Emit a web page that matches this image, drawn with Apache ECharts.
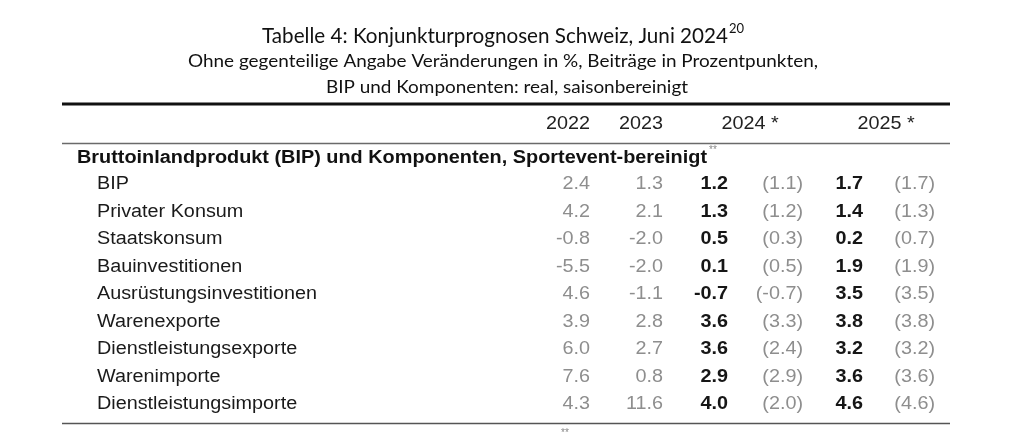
<!DOCTYPE html>
<html>
<head>
<meta charset="utf-8">
<script src="https://cdn.jsdelivr.net/npm/echarts@6/dist/echarts.min.js"></script>
<style>html,body{margin:0;padding:0;background:#fff}#c{width:1024px;height:433px}</style>
</head>
<body>
<div id="c"></div>
<script>
// ---------- data ----------
const titleText = 'Tabelle 4: Konjunkturprognosen Schweiz, Juni 2024';
const titleSup = '20';
const subtitle1 = 'Ohne gegenteilige Angabe Veränderungen in %, Beiträge in Prozentpunkten,';
const subtitle2 = 'BIP und Komponenten: real, saisonbereinigt';
const columnLabels = ['2022', '2023', '2024 *', '2025 *'];
const sectionLabel = 'Bruttoinlandprodukt (BIP) und Komponenten, Sportevent-bereinigt';
const categories = ['BIP', 'Privater Konsum', 'Staatskonsum', 'Bauinvestitionen',
  'Ausrüstungsinvestitionen', 'Warenexporte', 'Dienstleistungsexporte', 'Warenimporte',
  'Dienstleistungsimporte'];
const v2022 = [2.4, 4.2, -0.8, -5.5, 4.6, 3.9, 6.0, 7.6, 4.3];
const v2023 = [1.3, 2.1, -2.0, -2.0, -1.1, 2.8, 2.7, 0.8, 11.6];
const v2024 = [1.2, 1.3, 0.5, 0.1, -0.7, 3.6, 3.6, 2.9, 4.0];
const v2024prev = [1.1, 1.2, 0.3, 0.5, -0.7, 3.3, 2.4, 2.9, 2.0];
const v2025 = [1.7, 1.4, 0.2, 1.9, 3.5, 3.8, 3.2, 3.6, 4.6];
const v2025prev = [1.7, 1.3, 0.7, 1.9, 3.5, 3.8, 3.2, 3.6, 4.6];

// ---------- layout ----------
const TF = 'Liberation Sans, Arial, sans-serif';
const HF = 'Lato, Calibri, sans-serif';
const FS = 18;
const cv = document.createElement('canvas').getContext('2d');
function fit(text, font, target) { cv.font = font; return target / cv.measureText(text).width; }
const SX = fit('Ausrüstungsinvestitionen', FS + 'px ' + TF, 220);
const SXB = fit(sectionLabel, 'bold ' + FS + 'px ' + TF, 630);
const labelX = 97;
const colAnchors = { c2022: 590, c2023: 663, c2024: 728, c2024p: 803, c2025: 863, c2025p: 935 };
const GREY = '#8e8e8e', BLACK = '#161616';

function textSeries(name, values, anchorX, align, color, weight, fmt) {
  return {
    type: 'custom', name: name, coordinateSystem: 'cartesian2d', silent: true,
    encode: { x: 0, y: 1 },
    data: values.map((v, i) => [anchorX, i, v]),
    renderItem: function (params, api) {
      const p = api.coord([api.value(0), api.value(1)]);
      const idx = params.dataIndex;
      return {
        type: 'text', x: p[0], y: p[1] + 0.5, scaleX: SX, originX: 0, originY: 0,
        style: {
          text: fmt(values[idx], idx), x: 0, y: 0, align: align, verticalAlign: 'middle',
          font: (weight === 'bold' ? 'bold ' : '') + FS + 'px ' + TF, fill: color
        }
      };
    }
  };
}
const num = v => v.toFixed(1);
const par = v => '(' + v.toFixed(1) + ')';

const hdrY = 124;
const colHeaderX = [590, 663, 750, 886];
const colHeaderAlign = ['right', 'right', 'center', 'center'];

const graphics = [];
// title
const titleFont = '21px ' + HF;
graphics.push({ type: 'text', x: 262, y: 47, scaleX: fit(titleText, titleFont, 466),
  style: { text: titleText, font: titleFont, fill: '#111', align: 'left', verticalAlign: 'bottom' } });
graphics.push({ type: 'text', x: 729, y: 22, style: { text: titleSup, font: '13px ' + HF, fill: '#111', align: 'left', verticalAlign: 'top' } });
const subFont = '17px ' + HF;
graphics.push({ type: 'text', x: 503, y: 62, scaleX: fit(subtitle1, subFont, 630),
  style: { text: subtitle1, font: subFont, fill: '#111', align: 'center', verticalAlign: 'middle' } });
graphics.push({ type: 'text', x: 507, y: 88, scaleX: fit(subtitle2, subFont, 362),
  style: { text: subtitle2, font: subFont, fill: '#111', align: 'center', verticalAlign: 'middle' } });
// rules
graphics.push({ type: 'line', shape: { x1: 62, y1: 104, x2: 950, y2: 104 }, style: { stroke: '#111', lineWidth: 3 } });
graphics.push({ type: 'line', shape: { x1: 62, y1: 143.5, x2: 950, y2: 143.5 }, style: { stroke: '#6a6a6a', lineWidth: 1.5 } });
graphics.push({ type: 'line', shape: { x1: 62, y1: 423.5, x2: 950, y2: 423.5 }, style: { stroke: '#555', lineWidth: 1.5 } });
// column headers
columnLabels.forEach((t, i) => {
  graphics.push({ type: 'text', x: colHeaderX[i], y: hdrY, scaleX: SX,
    style: { text: t, font: FS + 'px ' + TF, fill: '#222', align: colHeaderAlign[i], verticalAlign: 'middle' } });
});
// section header
graphics.push({ type: 'text', x: 77, y: 158, scaleX: SXB,
  style: { text: sectionLabel, font: 'bold ' + FS + 'px ' + TF, fill: '#111', align: 'left', verticalAlign: 'middle' } });
graphics.push({ type: 'text', x: 709, y: 145, style: { text: '**', font: '10px ' + TF, fill: '#888', align: 'left', verticalAlign: 'top' } });
graphics.push({ type: 'text', x: 561, y: 428, style: { text: '**', font: '10px ' + TF, fill: '#888', align: 'left', verticalAlign: 'top' } });

const chart = echarts.init(document.getElementById('c'), null, { renderer: 'canvas' });
chart.setOption({
  animation: false,
  backgroundColor: '#fff',
  grid: { left: 0, right: 0, top: 170.25, bottom: 15.25, containLabel: false },
  xAxis: { type: 'value', min: 0, max: 1024, show: false },
  yAxis: { type: 'category', data: categories, inverse: true, show: false },
  graphic: graphics,
  series: [
    textSeries('label', categories, labelX, 'left', '#1a1a1a', 'normal', v => v),
    textSeries('2022', v2022, colAnchors.c2022, 'right', GREY, 'normal', num),
    textSeries('2023', v2023, colAnchors.c2023, 'right', GREY, 'normal', num),
    textSeries('2024', v2024, colAnchors.c2024, 'right', BLACK, 'bold', num),
    textSeries('2024 prev', v2024prev, colAnchors.c2024p, 'right', GREY, 'normal', par),
    textSeries('2025', v2025, colAnchors.c2025, 'right', BLACK, 'bold', num),
    textSeries('2025 prev', v2025prev, colAnchors.c2025p, 'right', GREY, 'normal', par)
  ]
});
</script>
</body>
</html>
